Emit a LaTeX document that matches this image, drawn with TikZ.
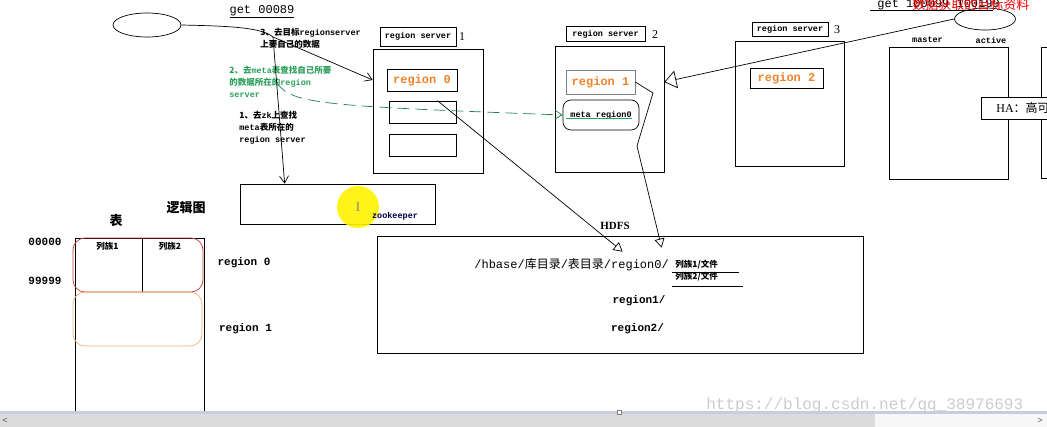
\documentclass[tikz,border=0pt]{standalone}
\usepackage{fontspec}
\setmainfont{Liberation Mono}
\newfontfamily\cjk{Noto Sans CJK SC}
\newfontfamily\serif{Liberation Serif}
\usetikzlibrary{shapes.geometric,arrows.meta,calc}

\definecolor{regorange}{RGB}{238,132,44}
\definecolor{stepgreen}{RGB}{44,160,92}
\definecolor{dashgreen}{RGB}{30,130,80}
\definecolor{rowred}{RGB}{200,60,50}
\definecolor{roworange}{RGB}{240,180,120}
\definecolor{barblue}{RGB}{196,206,222}

\tikzset{
  tag/.style={draw, inner sep=0pt, font=\bfseries\fontsize{8.5}{10}\selectfont},
  server/.style={draw, inner sep=0pt},
  region/.style={draw, inner sep=0pt, text=regorange, font=\bfseries\fontsize{12}{14}\selectfont},
  note/.style={align=left, inner sep=0pt, anchor=north west, font=\bfseries\fontsize{8.5}{12}\selectfont},
  lnk/.style={-{Straight Barb[length=7pt,width=9pt]}},
  hollow/.style={-{Triangle[open,length=9pt,width=10pt]}},
  bighollow/.style={-{Triangle[open,length=12pt,width=18pt]}},
}

\begin{document}
\begin{tikzpicture}[x=1pt, y=-1pt, line width=0.7pt]
  \useasboundingbox (0,0) rectangle (1047,427);
  \clip (0,0) rectangle (1047,427);
  \fill[white] (0,0) rectangle (1047,427);

  % clients
  \node[draw, ellipse, minimum width=68, minimum height=24] (client) at (147,25) {};
  \node[font=\fontsize{12}{14}\selectfont, inner sep=0pt] (getA) at (262,12) {\underline{get 00089}};
  \node[draw, ellipse, minimum width=61, minimum height=22] (client2) at (985,19) {};
  \draw (870,10) -- (993,10);
  \node[anchor=west, inner sep=0pt, font=\fontsize{12}{14}\selectfont] (getB) at (877,5) {get 100099~100199};
  \node[anchor=west, inner sep=0pt, text=red, font=\cjk\fontsize{13}{14}\selectfont] (getred) at (912,5) {数据获取的目标资料};

  % region servers
  \node[tag, minimum width=76, minimum height=19] (rs1tag) at (418,36.5) {region server};
  \node[font=\serif\fontsize{12}{14}\selectfont, inner sep=0pt] (n1) at (462,37) {1};
  \node[server, minimum width=110, minimum height=124] (rs1) at (428,111) {};
  \node[region, minimum width=70, minimum height=22] (r0) at (422,80) {region 0};
  \node[server, minimum width=67, minimum height=22] (r0b) at (422.5,112) {};
  \node[server, minimum width=67, minimum height=22] (r0c) at (422.5,145) {};

  \node[tag, minimum width=79, minimum height=15] (rs2tag) at (605.5,34) {region server};
  \node[font=\serif\fontsize{12}{14}\selectfont, inner sep=0pt] (n2) at (655,35) {2};
  \node[server, minimum width=109, minimum height=126] (rs2) at (609.5,109) {};
  \node[region, draw=gray, minimum width=69, minimum height=24] (r1) at (600.5,82) {region 1};
  \node[draw, rounded corners=8pt, minimum width=76, minimum height=30, inner sep=0pt,
    font=\bfseries\fontsize{8.5}{10}\selectfont] (meta) at (601,115) {meta region0};
  \draw[stepgreen] (566,118) -- (632,118);

  \node[tag, minimum width=76, minimum height=14] (rs3tag) at (790,29) {region server};
  \node[font=\serif\fontsize{12}{14}\selectfont, inner sep=0pt] (n3) at (837,30) {3};
  \node[server, minimum width=109, minimum height=125] (rs3) at (789.5,103.5) {};
  \node[region, minimum width=73, minimum height=20] (r2) at (786.5,78) {region 2};

  % master
  \node[font=\bfseries\fontsize{8.5}{10}\selectfont, inner sep=0pt] (mst) at (927.5,40) {master};
  \node[font=\bfseries\fontsize{8.5}{10}\selectfont, inner sep=0pt] (act) at (991,40) {active};
  \node[server, minimum width=119, minimum height=132] (master) at (948.5,113) {};
  \draw (1050,47) -- (1041,47) -- (1041,178) -- (1050,178);
  \node[draw, fill=white, anchor=west, minimum width=90, minimum height=22, inner sep=0pt,
    text width=80, align=left, font=\serif\fontsize{12}{14}\selectfont] (ha) at (981,108)
    {\hspace*{10pt}HA\cjk：高可用};

  % zookeeper
  \node[server, minimum width=195, minimum height=40] (zk) at (337.5,204) {};
  \fill[yellow, opacity=0.9] (358,207) circle (21);
  \node[text=gray, font=\serif\fontsize{13}{14}\selectfont, inner sep=0pt] (cursor) at (358,207) {I};
  \node[text=blue!30!black, font=\bfseries\fontsize{8.5}{10}\selectfont, inner sep=0pt] (zktxt) at (395,216) {zookeeper};

  % steps
  \node[note] (s3) at (260,28) {\cjk 3、去目标{\rmfamily regionserver}\\\cjk 上要自己的数据};
  \node[note, text=stepgreen] (s2) at (229,66) {\cjk 2、去{\rmfamily meta}表查找自己所要\\\cjk 的数据所在的{\rmfamily region}\\server};
  \node[note] (s1) at (239,111) {\cjk 1、去{\rmfamily zk}上查找\\{\rmfamily meta}\cjk 表所在的\\region server};

  \coordinate (fork) at (273,37);
  \coordinate (gstart) at (277,83);
  \draw (client.east) .. controls (225,26) and (262,27) .. (fork);
  \draw[lnk] (fork) -- ($(zk.north west)+(45,0)$);
  \draw[lnk] (fork) -- (rs1.west |- r0);
  \draw[dashgreen, dash pattern=on 12pt off 6pt, lnk] (gstart) .. controls (292,104) and (320,106) .. (meta.west);
  \draw[bighollow] (client2.west) -- (rs2.east |- r1);

  % logical view
  \node[font=\cjk\bfseries\fontsize{13}{15}\selectfont, inner sep=0pt] (logic) at (186,208) {逻辑图};
  \node[font=\cjk\bfseries\fontsize{13}{15}\selectfont, inner sep=0pt] (tbl) at (116,221) {表};
  \node[font=\bfseries\fontsize{11}{13}\selectfont, inner sep=0pt] (k0) at (45,242) {00000};
  \node[font=\bfseries\fontsize{11}{13}\selectfont, inner sep=0pt] (k9) at (45,281) {99999};
  \draw (75,420) -- (75,238) -- (204,238) -- (204,420);
  \draw (142,238) -- (142,292);
  \draw[rowred, rounded corners=12pt] (73,238) rectangle (203,292);
  \draw[roworange, rounded corners=12pt] (73,292) rectangle (202,346);
  \node[font=\cjk\bfseries\fontsize{8.5}{10}\selectfont, inner sep=0pt] (cf1) at (107.5,246) {列族1};
  \node[font=\cjk\bfseries\fontsize{8.5}{10}\selectfont, inner sep=0pt] (cf2) at (170,246) {列族2};
  \node[font=\bfseries\fontsize{11}{13}\selectfont, inner sep=0pt] (lr0) at (244,263) {region 0};
  \node[font=\bfseries\fontsize{11}{13}\selectfont, inner sep=0pt] (lr1) at (245.5,329) {region 1};

  % HDFS
  \node[font=\serif\bfseries\fontsize{11}{13}\selectfont, inner sep=0pt] (hdfslbl) at (615,226) {HDFS};
  \node[server, minimum width=486, minimum height=117] (hdfs) at (620,294.5) {};
  \node[anchor=west, inner sep=0pt, font=\fontsize{12}{14}\selectfont] (path) at (474,265)
    {/hbase/{\cjk 库目录}/{\cjk 表目录}/region0/};
  \node[anchor=west, inner sep=0pt, font=\cjk\bfseries\fontsize{8.5}{10}\selectfont] (f1) at (675,265) {列族1/文件};
  \node[anchor=west, inner sep=0pt, font=\cjk\bfseries\fontsize{8.5}{10}\selectfont] (f2) at (675,277) {列族2/文件};
  \draw (672,272) -- (739,272);
  \draw (672,286) -- (743,286);
  \node[font=\bfseries\fontsize{11}{13}\selectfont, inner sep=0pt] (p1) at (639,301) {region1/};
  \node[font=\bfseries\fontsize{11}{13}\selectfont, inner sep=0pt] (p2) at (637.5,329) {region2/};

  \draw[hollow] ($(r0b.north west)!0.72!(r0b.north east)$) -- ($(hdfs.north west)+(246,16)$);
  \draw[hollow] (r1.east) -- (653,93) -- (637,146) -- ($(hdfs.north west)+(285,12)$);

  % window bar
  \node[anchor=west, inner sep=0pt, text=gray!40, font=\fontsize{16}{18}\selectfont] (mark) at (706,405) {https://blog.csdn.net/qq\_38976693};
  \fill[barblue] (0,411) rectangle (1047,414);
  \fill[gray!28] (0,414) rectangle (875,427);
  \fill[gray!6] (875,414) rectangle (1047,427);
  \draw[gray, line width=0.6pt, fill=white] (617,410) rectangle (621,414);
  \node[text=gray!70!black, font=\fontsize{9}{10}\selectfont, inner sep=0pt] (lt) at (5,421) {<};
  \node[text=gray!70!black, font=\fontsize{9}{10}\selectfont, inner sep=0pt] (gt) at (1040,421) {>};
\end{tikzpicture}
\end{document}
